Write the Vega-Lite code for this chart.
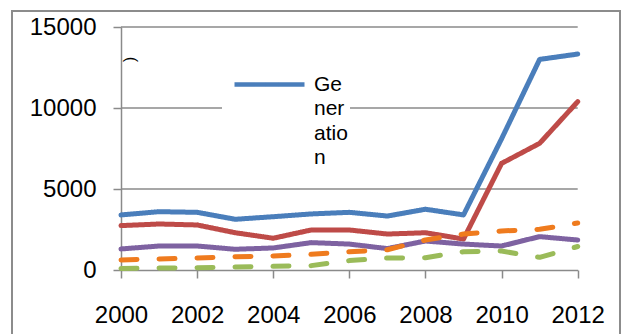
{
  "$schema": "https://vega.github.io/schema/vega-lite/v6.json",
  "width": 608,
  "height": 323,
  "autosize": "none",
  "padding": {"left": 12, "top": 11, "right": 4, "bottom": 0},
  "background": "white",
  "config": {
    "view": {"stroke": "#8c8c8c", "strokeWidth": 2, "strokeDash": [931, 608, 330, 1]},
    "font": "Liberation Sans",
    "axis": {
      "labelFont": "Liberation Sans",
      "labelFontSize": 24,
      "labelColor": "#000000",
      "domainColor": "#8a8a8a",
      "domainWidth": 1.5,
      "tickColor": "#8a8a8a",
      "tickWidth": 1.5,
      "tickSize": 8,
      "labelFlush": false,
      "labelOverlap": false,
      "labelBound": false
    }
  },
  "datasets": {
    "gridlines": [{"level": 5000}, {"level": 10000}, {"level": 15000}],
    "series": [
      {"series": "Generation", "year": 2000, "value": 3400},
      {"series": "Generation", "year": 2001, "value": 3600},
      {"series": "Generation", "year": 2002, "value": 3560},
      {"series": "Generation", "year": 2003, "value": 3130},
      {"series": "Generation", "year": 2004, "value": 3290},
      {"series": "Generation", "year": 2005, "value": 3460},
      {"series": "Generation", "year": 2006, "value": 3560},
      {"series": "Generation", "year": 2007, "value": 3330},
      {"series": "Generation", "year": 2008, "value": 3750},
      {"series": "Generation", "year": 2009, "value": 3400},
      {"series": "Generation", "year": 2010, "value": 8100},
      {"series": "Generation", "year": 2011, "value": 13000},
      {"series": "Generation", "year": 2012, "value": 13330},
      {"series": "Series 2", "year": 2000, "value": 2740},
      {"series": "Series 2", "year": 2001, "value": 2840},
      {"series": "Series 2", "year": 2002, "value": 2780},
      {"series": "Series 2", "year": 2003, "value": 2300},
      {"series": "Series 2", "year": 2004, "value": 1960},
      {"series": "Series 2", "year": 2005, "value": 2470},
      {"series": "Series 2", "year": 2006, "value": 2470},
      {"series": "Series 2", "year": 2007, "value": 2220},
      {"series": "Series 2", "year": 2008, "value": 2300},
      {"series": "Series 2", "year": 2009, "value": 1910},
      {"series": "Series 2", "year": 2010, "value": 6580},
      {"series": "Series 2", "year": 2011, "value": 7820},
      {"series": "Series 2", "year": 2012, "value": 10390},
      {"series": "Series 3", "year": 2000, "value": 1300},
      {"series": "Series 3", "year": 2001, "value": 1480},
      {"series": "Series 3", "year": 2002, "value": 1480},
      {"series": "Series 3", "year": 2003, "value": 1280},
      {"series": "Series 3", "year": 2004, "value": 1360},
      {"series": "Series 3", "year": 2005, "value": 1690},
      {"series": "Series 3", "year": 2006, "value": 1600},
      {"series": "Series 3", "year": 2007, "value": 1320},
      {"series": "Series 3", "year": 2008, "value": 1790},
      {"series": "Series 3", "year": 2009, "value": 1600},
      {"series": "Series 3", "year": 2010, "value": 1480},
      {"series": "Series 3", "year": 2011, "value": 2060},
      {"series": "Series 3", "year": 2012, "value": 1850},
      {"series": "Series 4", "year": 2000, "value": 620},
      {"series": "Series 4", "year": 2001, "value": 680},
      {"series": "Series 4", "year": 2002, "value": 740},
      {"series": "Series 4", "year": 2003, "value": 820},
      {"series": "Series 4", "year": 2004, "value": 860},
      {"series": "Series 4", "year": 2005, "value": 970},
      {"series": "Series 4", "year": 2006, "value": 1130},
      {"series": "Series 4", "year": 2007, "value": 1250},
      {"series": "Series 4", "year": 2008, "value": 1850},
      {"series": "Series 4", "year": 2009, "value": 2220},
      {"series": "Series 4", "year": 2010, "value": 2410},
      {"series": "Series 4", "year": 2011, "value": 2510},
      {"series": "Series 4", "year": 2012, "value": 2900},
      {"series": "Series 5", "year": 2000, "value": 100},
      {"series": "Series 5", "year": 2001, "value": 120},
      {"series": "Series 5", "year": 2002, "value": 145},
      {"series": "Series 5", "year": 2003, "value": 185},
      {"series": "Series 5", "year": 2004, "value": 225},
      {"series": "Series 5", "year": 2005, "value": 270},
      {"series": "Series 5", "year": 2006, "value": 580},
      {"series": "Series 5", "year": 2007, "value": 740},
      {"series": "Series 5", "year": 2008, "value": 760},
      {"series": "Series 5", "year": 2009, "value": 1130},
      {"series": "Series 5", "year": 2010, "value": 1170},
      {"series": "Series 5", "year": 2011, "value": 780},
      {"series": "Series 5", "year": 2012, "value": 1450}
    ]
  },
  "layer": [
    {
      "data": {"name": "gridlines"},
      "mark": {"type": "rule", "color": "#8a8a8a", "strokeWidth": 1.5},
      "encoding": {
        "y": {"field": "level", "type": "quantitative"},
        "x": {"datum": 2000},
        "x2": {"datum": 2012}
      }
    },
    {
      "data": {"name": "series"},
      "mark": {"type": "line", "strokeWidth": 5, "strokeCap": "round", "strokeJoin": "round"},
      "encoding": {
        "x": {"field": "year", "type": "quantitative"},
        "y": {"field": "value", "type": "quantitative"},
        "color": {
          "field": "series",
          "type": "nominal",
          "scale": {
            "domain": ["Generation", "Series 2", "Series 3", "Series 4", "Series 5"],
            "range": ["#4A7EBB", "#BE4B48", "#7E62A1", "#EF7B1E", "#9ABB59"]
          },
          "legend": {
            "values": ["Generation"],
            "orient": "none",
            "legendX": 210,
            "legendY": 34,
            "title": null,
            "fillColor": "white",
            "padding": 2,
            "symbolType": "stroke",
            "symbolSize": 4900,
            "symbolStrokeWidth": 4.5,
            "symbolOffset": 8,
            "labelOffset": 7,
            "labelFont": "Liberation Sans",
            "labelFontSize": 21,
            "labelColor": "#000000",
            "labelAlign": "left",
            "labelBaseline": "middle",
            "labelLimit": 0,
            "labelExpr": "datum.label == 'Generation' ? ['Ge', 'ner', 'atio', 'n'] : datum.label",
            "encode": {"labels": {"update": {"lineHeight": {"value": 24.5}}}}
          }
        },
        "strokeDash": {
          "field": "series",
          "type": "nominal",
          "scale": {
            "domain": ["Generation", "Series 2", "Series 3", "Series 4", "Series 5"],
            "range": [[1, 0], [1, 0], [1, 0], [16, 22], [16, 22]]
          },
          "legend": null
        }
      }
    }
  ],
  "encoding": {
    "x": {
      "type": "quantitative",
      "scale": {"domain": [2000, 2012], "range": [109, 565.7], "zero": false, "nice": false},
      "axis": {
        "values": [2000, 2002, 2004, 2006, 2008, 2010, 2012],
        "format": "d",
        "grid": false,
        "title": null,
        "offset": -64,
        "labelPadding": 25
      }
    },
    "y": {
      "type": "quantitative",
      "scale": {"domain": [0, 15000], "range": [259, 16], "nice": false},
      "axis": {
        "values": [0, 5000, 10000, 15000],
        "format": "d",
        "grid": false,
        "offset": -109,
        "labelPadding": 17,
        "title": "(",
        "titleAngle": 90,
        "titleX": 9,
        "titleY": 48,
        "titleFont": "Liberation Sans",
        "titleFontSize": 16,
        "titleFontWeight": "normal",
        "titleColor": "#000000",
        "titleAlign": "center",
        "titleBaseline": "middle"
      }
    }
  }
}
